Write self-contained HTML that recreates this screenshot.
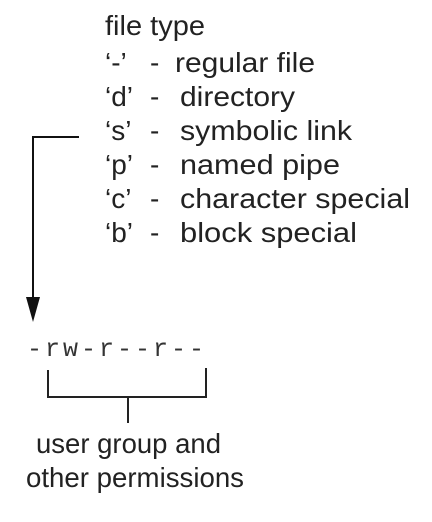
<!DOCTYPE html>
<html><head><style>
body{margin:0;background:#fff;width:432px;height:517px;overflow:hidden}
svg text{font-family:"Liberation Sans",sans-serif;font-size:28px;fill:#222}
</style></head><body>
<svg width="432" height="517" viewBox="0 0 432 517">
<text x="105" y="35" textLength="100" lengthAdjust="spacingAndGlyphs">file type</text>
<text x="105" y="72">‘-’</text><text x="150" y="72">-</text><text x="175" y="72" textLength="140" lengthAdjust="spacingAndGlyphs">regular file</text>
<text x="105" y="106">‘d’</text><text x="150" y="106">-</text><text x="180" y="106" textLength="115" lengthAdjust="spacingAndGlyphs">directory</text>
<text x="105" y="140">‘s’</text><text x="150" y="140">-</text><text x="180" y="140" textLength="172" lengthAdjust="spacingAndGlyphs">symbolic link</text>
<text x="105" y="174">‘p’</text><text x="150" y="174">-</text><text x="180" y="174" textLength="160" lengthAdjust="spacingAndGlyphs">named pipe</text>
<text x="105" y="208">‘c’</text><text x="150" y="208">-</text><text x="180" y="208" textLength="230" lengthAdjust="spacingAndGlyphs">character special</text>
<text x="105" y="242">‘b’</text><text x="150" y="242">-</text><text x="180" y="242" textLength="177" lengthAdjust="spacingAndGlyphs">block special</text>
<path d="M79 137H33V298" stroke="#111" stroke-width="2" fill="none"/>
<path d="M26 297L40 297L33 322Z" fill="#111"/>
<text x="27" y="356" style="font-family:'Liberation Mono',monospace;font-size:25px;fill:#333" textLength="177" lengthAdjust="spacing">-rw-r--r--</text>
<path d="M48 370V397H206V368M128 397V423" stroke="#222" stroke-width="2" fill="none"/>
<text x="36" y="453" textLength="185" lengthAdjust="spacingAndGlyphs">user group and</text>
<text x="26" y="487" textLength="218" lengthAdjust="spacingAndGlyphs">other permissions</text>
</svg>
</body></html>
